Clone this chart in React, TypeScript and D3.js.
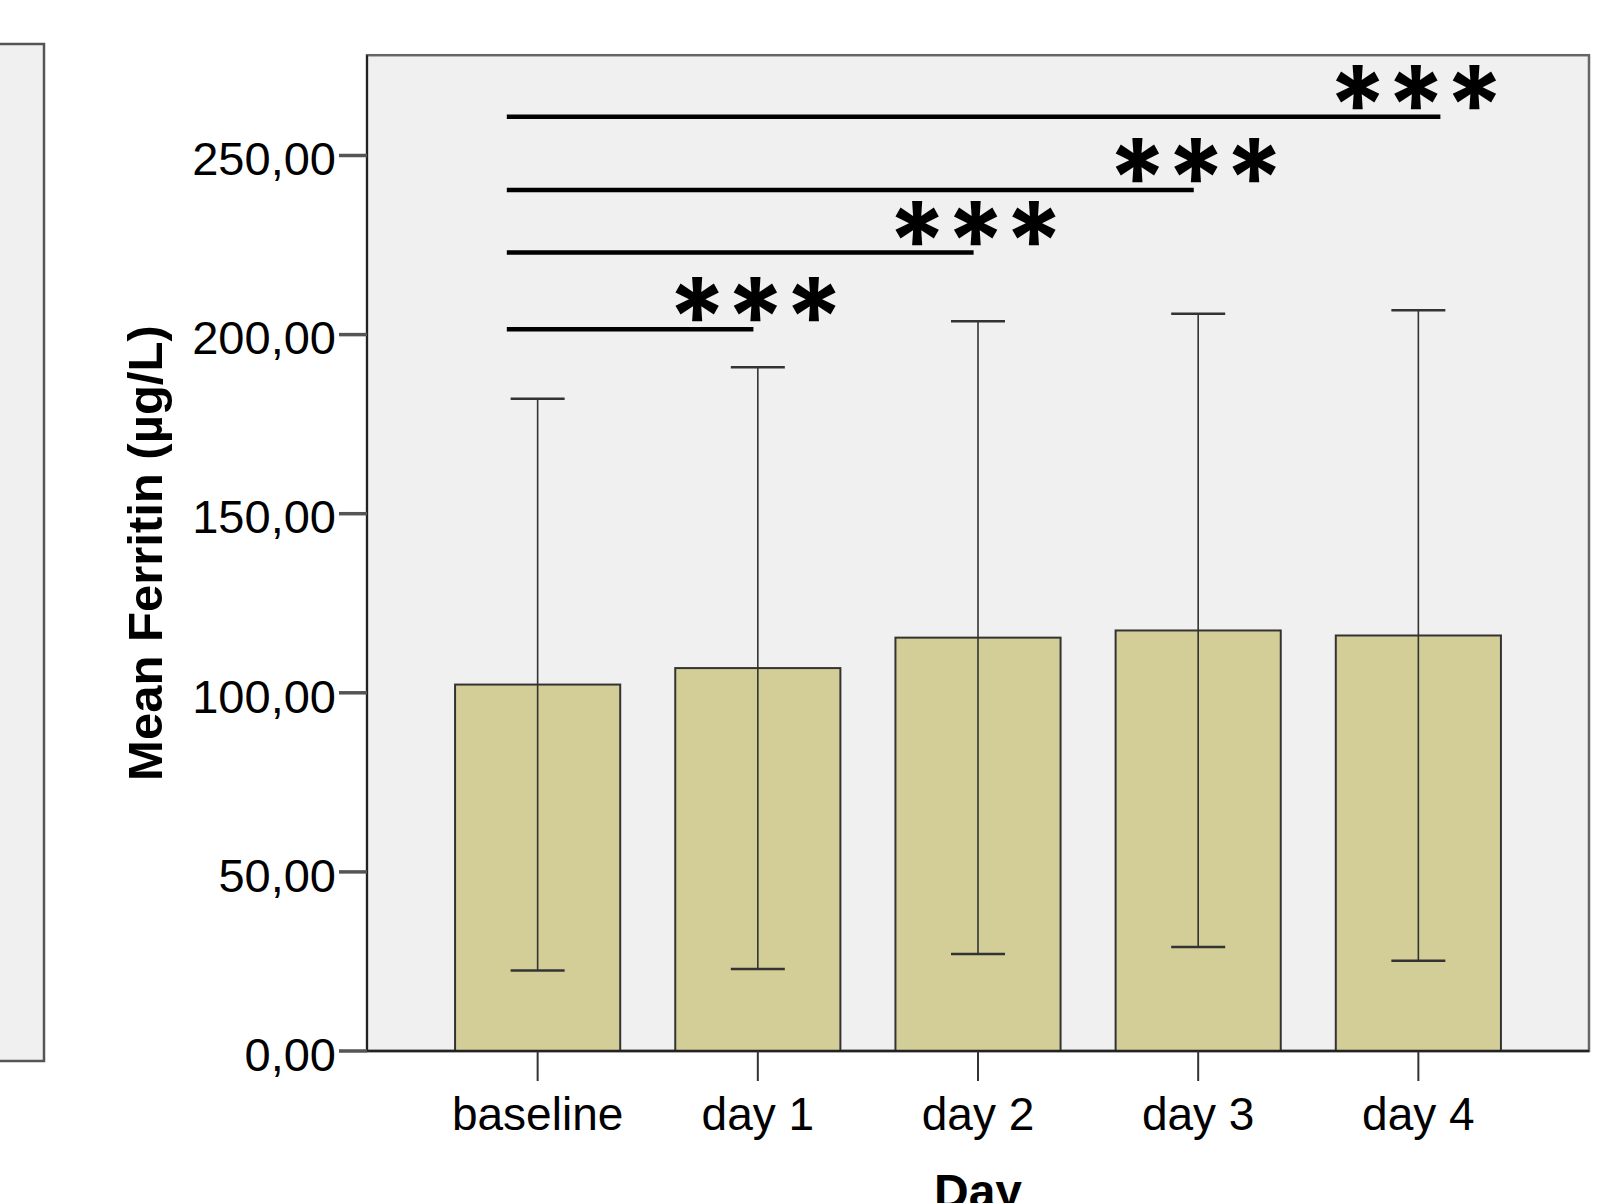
import React, { useEffect, useRef } from "react";
import * as d3 from "d3";

// DATA
const days = ["baseline", "day 1", "day 2", "day 3", "day 4"];
const meanFerritin = [102.3, 106.9, 115.4, 117.4, 116.0];
const sdFerritin = [79.8, 84.0, 88.3, 88.4, 90.8];
const yTicks = [0, 50, 100, 150, 200, 250];
const sigTargets = ["day 1", "day 2", "day 3", "day 4"];
const sigLevels = [201.5, 222.9, 240.4, 260.8];
const sigLabels = ["***", "***", "***", "***"];

export default function App() {
  const ref = useRef<SVGSVGElement | null>(null);

  useEffect(() => {
    if (!ref.current) return;
    const W = 1604;
    const H = 1203;
    const left = 367;
    const right = 1589;
    const bottom = 1051;
    const yMax = 278;
    const font = "'Liberation Sans', Arial, sans-serif";

    const svg = d3.select(ref.current);
    svg.selectAll("*").remove();
    svg.attr("width", W).attr("height", H);

    // SCALES
    const x = d3
      .scaleBand()
      .domain(days)
      .range([left, right])
      .paddingInner(0.25)
      .paddingOuter(0.4);
    const step = x.step();
    const cx = (d: string) => (x(d) as number) + x.bandwidth() / 2;

    const y = d3.scaleLinear().domain([0, 250]).range([bottom, 155.5]);

    // LEFT (CUT) PANEL
    svg
      .append("rect")
      .attr("x", -10)
      .attr("y", 44)
      .attr("width", 54)
      .attr("height", 1017)
      .attr("fill", "#f0f0f0")
      .attr("stroke", "#555")
      .attr("stroke-width", 2.5);

    // PLOT FRAME
    svg
      .append("rect")
      .attr("x", left)
      .attr("y", y(yMax))
      .attr("width", right - left)
      .attr("height", bottom - y(yMax))
      .attr("fill", "#f0f0f0")
      .attr("stroke", "#666")
      .attr("stroke-width", 2.5);

    // BARS
    svg
      .append("g")
      .selectAll("rect")
      .data(days)
      .join("rect")
      .attr("x", (d) => x(d) as number)
      .attr("y", (d, i) => y(meanFerritin[i]))
      .attr("width", x.bandwidth())
      .attr("height", (d, i) => bottom - y(meanFerritin[i]))
      .attr("fill", "#d3ce98")
      .attr("stroke", "#333")
      .attr("stroke-width", 2);

    // ERROR BARS
    const err = svg.append("g").attr("stroke", "#333").attr("stroke-width", 1.6);
    days.forEach((d, i) => {
      const hi = y(meanFerritin[i] + sdFerritin[i]);
      const lo = y(meanFerritin[i] - sdFerritin[i]);
      err.append("line").attr("x1", cx(d)).attr("x2", cx(d)).attr("y1", hi).attr("y2", lo);
      [hi, lo].forEach((v) =>
        err
          .append("line")
          .attr("x1", cx(d) - 27)
          .attr("x2", cx(d) + 27)
          .attr("y1", v)
          .attr("y2", v)
          .attr("stroke-width", 2.5)
      );
    });

    // AXES LINES
    svg
      .append("line")
      .attr("x1", left)
      .attr("x2", left)
      .attr("y1", y(yMax))
      .attr("y2", bottom)
      .attr("stroke", "#222")
      .attr("stroke-width", 2);
    svg
      .append("line")
      .attr("x1", left)
      .attr("x2", right)
      .attr("y1", bottom)
      .attr("y2", bottom)
      .attr("stroke", "#222")
      .attr("stroke-width", 2.5);

    // Y TICKS
    const yt = svg.append("g");
    yTicks.forEach((t) => {
      yt.append("line")
        .attr("x1", left - 28)
        .attr("x2", left)
        .attr("y1", y(t))
        .attr("y2", y(t))
        .attr("stroke", "#555")
        .attr("stroke-width", 3.5);
      yt.append("text")
        .attr("x", left - 31)
        .attr("y", y(t))
        .attr("dy", "0.42em")
        .attr("text-anchor", "end")
        .attr("font-family", font)
        .attr("font-size", 47)
        .attr("fill", "#000")
        .text(d3.format(".2f")(t).replace(".", ","));
    });

    // X TICKS
    const xt = svg.append("g");
    days.forEach((d) => {
      xt.append("line")
        .attr("x1", cx(d))
        .attr("x2", cx(d))
        .attr("y1", bottom)
        .attr("y2", bottom + 30)
        .attr("stroke", "#333")
        .attr("stroke-width", 2);
      xt.append("text")
        .attr("x", cx(d))
        .attr("y", 1130)
        .attr("text-anchor", "middle")
        .attr("font-family", font)
        .attr("font-size", 46)
        .attr("fill", "#000")
        .text(d);
    });

    // AXIS TITLES
    svg
      .append("text")
      .attr("transform", `translate(162,${(y(0) + y(yMax)) / 2})rotate(-90)`)
      .attr("text-anchor", "middle")
      .attr("font-family", font)
      .attr("font-weight", "bold")
      .attr("font-size", 49)
      .text("Mean Ferritin (µg/L)");
    svg
      .append("text")
      .attr("x", cx("day 2"))
      .attr("y", 1208)
      .attr("text-anchor", "middle")
      .attr("font-family", font)
      .attr("font-weight", "bold")
      .attr("font-size", 48)
      .text("Day");

    // SIGNIFICANCE BRACKETS
    const sig = svg.append("g");
    sigTargets.forEach((t, i) => {
      const ly = y(sigLevels[i]);
      const x1 = cx("baseline") - 0.14 * step;
      const x2 = cx(t) + (i === sigTargets.length - 1 ? 0.1 : -0.02) * step;
      sig
        .append("line")
        .attr("x1", x1)
        .attr("x2", x2)
        .attr("y1", ly)
        .attr("y2", ly)
        .attr("stroke", "#000")
        .attr("stroke-width", 4.5);
      sig
        .append("text")
        .attr("x", cx(t) - 0.015 * step)
        .attr("y", ly + 27)
        .attr("text-anchor", "middle")
        .attr("font-family", "Inter, sans-serif")
        .attr("font-weight", "bold")
        .attr("font-size", 108)
        .attr("letter-spacing", -2)
        .text(sigLabels[i]);
    });
  }, []);

  return (
    <div style={{ position: "absolute", left: 0, top: 0 }}>
      <svg ref={ref} style={{ display: "block" }} />
    </div>
  );
}
